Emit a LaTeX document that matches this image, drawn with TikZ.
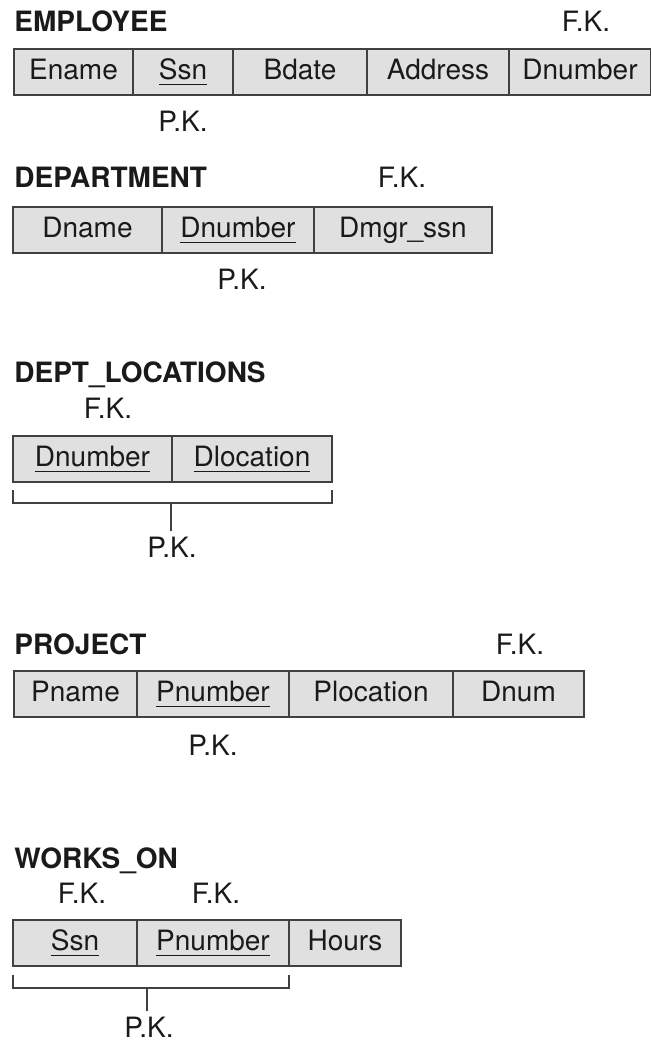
\documentclass[tikz,border=0pt]{standalone}
\usepackage{fontspec}
\setmainfont{TeX Gyre Heros}
\definecolor{cellfill}{RGB}{224,224,224}
\definecolor{cellline}{RGB}{64,64,64}
\definecolor{inkgray}{RGB}{26,26,26}
\newcommand{\keyul}[1]{\setbox0\hbox{#1}\rlap{\rule[-2.85pt]{\wd0}{0.7pt}}\box0}

\begin{document}
\begin{tikzpicture}[x=0.5pt, y=-0.5pt,
    cell/.style={draw=cellline, fill=cellfill, line width=0.85pt, minimum height=23pt, inner sep=0pt, outer sep=0pt, text height=0.74em, text depth=0pt, text=inkgray, font=\fontsize{14}{16}\selectfont},
    title/.style={anchor=base west, inner sep=0pt, text=inkgray, font=\bfseries\fontsize{14}{16}\selectfont},
    keylabel/.style={anchor=base, inner sep=0pt, text height=0.72em, text depth=0pt, text=inkgray, font=\fontsize{14}{16}\selectfont},
    pkbrace/.style={draw=cellline, line width=0.75pt}]
    \useasboundingbox (0,0) rectangle (650,1043);

    % EMPLOYEE
    \node[title] (emp) at (14,32) {EMPLOYEE};
    \node[cell, minimum width=59.5pt] (e1) at (73.5,72) {Ename};
    \node[cell, minimum width=50pt] (e2) at (183,72) {\keyul{Ssn}};
    \node[cell, minimum width=67pt] (e3) at (300,72) {Bdate};
    \node[cell, minimum width=71pt] (e4) at (438,72) {Address};
    \node[cell, minimum width=71pt] (e5) at (580,72) {Dnumber};
    \node[keylabel] (efk) at (586,32) {F.K.};
    \node[keylabel] (epk) at (183,132) {P.K.};

    % DEPARTMENT
    \node[title] (dep) at (14,188) {DEPARTMENT};
    \node[cell, minimum width=74.5pt] (d1) at (87.5,230) {Dname};
    \node[cell, minimum width=76pt] (d2) at (238,230) {\keyul{Dnumber}};
    \node[cell, minimum width=89pt] (d3) at (403,230) {Dmgr\_ssn};
    \node[keylabel] (dfk) at (402,188) {F.K.};
    \node[keylabel] (dpk) at (242,289) {P.K.};

    % DEPT_LOCATIONS
    \node[title] (loc) at (14,382) {DEPT\_LOCATIONS};
    \node[keylabel] (lfk) at (108,418) {F.K.};
    \node[cell, minimum width=79.5pt] (l1) at (92.5,459) {\keyul{Dnumber}};
    \node[cell, minimum width=80pt] (l2) at (252,459) {\keyul{Dlocation}};
    \draw[pkbrace] ([yshift=-4pt]l1.south west) -- ++(0,13) -| ([yshift=-4pt]l2.south east);
    \coordinate (ljoin) at (171,503);
    \node[keylabel] (lpk) at (172,557) {P.K.};
    \draw[pkbrace, shorten >=5.6pt] (ljoin) -- (ljoin |- lpk.north);

    % PROJECT
    \node[title] (prj) at (14,654) {PROJECT};
    \node[cell, minimum width=61.5pt] (p1) at (75.5,694) {Pname};
    \node[cell, minimum width=76pt] (p2) at (213,694) {\keyul{Pnumber}};
    \node[cell, minimum width=82pt] (p3) at (371,694) {Plocation};
    \node[cell, minimum width=65.5pt] (p4) at (518.5,694) {Dnum};
    \node[keylabel] (pfk) at (520,654) {F.K.};
    \node[keylabel] (ppk) at (213,755) {P.K.};

    % WORKS_ON
    \node[title] (wrk) at (14,868) {WORKS\_ON};
    \node[keylabel] (wfk1) at (82,903) {F.K.};
    \node[keylabel] (wfk2) at (216,903) {F.K.};
    \node[cell, minimum width=62pt] (w1) at (75,943) {\keyul{Ssn}};
    \node[cell, minimum width=76pt] (w2) at (213,943) {\keyul{Pnumber}};
    \node[cell, minimum width=56pt] (w3) at (345,943) {Hours};
    \draw[pkbrace] ([yshift=-4.5pt]w1.south west) -- ++(0,13) -| ([yshift=-4.5pt]w2.south east);
    \coordinate (wjoin) at (147,988);
    \node[keylabel] (wpk) at (149,1037) {P.K.};
    \draw[pkbrace, shorten >=5.5pt] (wjoin) -- (wjoin |- wpk.north);
\end{tikzpicture}
\end{document}
